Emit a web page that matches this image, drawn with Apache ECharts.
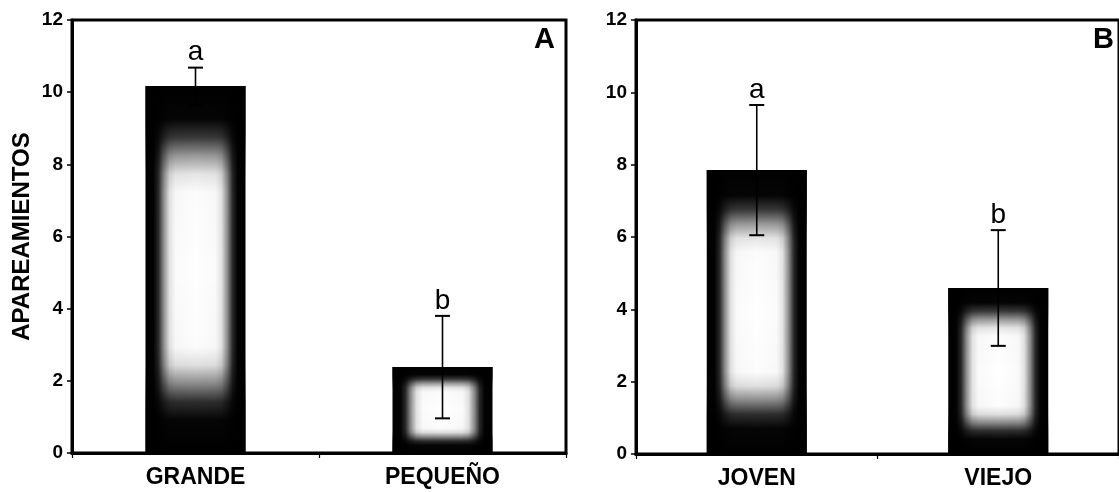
<!DOCTYPE html>
<html>
<head>
<meta charset="utf-8">
<script src="https://cdn.jsdelivr.net/npm/echarts@6/dist/echarts.min.js"></script>
<style>
  html, body { margin: 0; padding: 0; background: #ffffff; }
  #chart { width: 1119px; height: 492px; }
</style>
</head>
<body>
<div id="chart"></div>
<script>
// Panel A: mating counts by body size
const categoriesA = ['GRANDE', 'PEQUEÑO'];
const meansA = [10.17, 2.38];
const errorsA = [0.51, 1.42];
const lettersA = ['a', 'b'];

// Panel B: mating counts by age
const categoriesB = ['JOVEN', 'VIEJO'];
const meansB = [7.85, 4.59];
const errorsB = [1.80, 1.60];
const lettersB = ['a', 'b'];

const panelLabels = ['A', 'B'];
const yAxisTitle = 'APAREAMIENTOS';
const yMin = 0;
const yMax = 12;
const yStep = 2;

const FONT = '"Liberation Sans", Arial, Helvetica, sans-serif';
const BAR_W = 100;
const CAP_W = 15;

// Bar body: dark frame fading into a pale centre (horizontal profile)
const sideShade = new echarts.graphic.LinearGradient(0, 0, 1, 0, [
  { offset: 0.00, color: '#000000' },
  { offset: 0.08, color: '#030303' },
  { offset: 0.13, color: '#2a2a2a' },
  { offset: 0.18, color: '#8a8a8a' },
  { offset: 0.24, color: '#e2e2e2' },
  { offset: 0.30, color: '#fafafa' },
  { offset: 0.50, color: '#ffffff' },
  { offset: 0.70, color: '#fafafa' },
  { offset: 0.76, color: '#e2e2e2' },
  { offset: 0.82, color: '#8a8a8a' },
  { offset: 0.87, color: '#2a2a2a' },
  { offset: 0.92, color: '#030303' },
  { offset: 1.00, color: '#000000' }
]);
// Vertical darkening laid over the body, so top and bottom fade to black too
const endShade = new echarts.graphic.LinearGradient(0, 0, 0, 1, [
  { offset: 0.00, color: 'rgba(0,0,0,1)' },
  { offset: 0.09, color: 'rgba(0,0,0,0.98)' },
  { offset: 0.14, color: 'rgba(0,0,0,0.78)' },
  { offset: 0.19, color: 'rgba(0,0,0,0.40)' },
  { offset: 0.24, color: 'rgba(0,0,0,0.10)' },
  { offset: 0.29, color: 'rgba(0,0,0,0.01)' },
  { offset: 0.50, color: 'rgba(0,0,0,0)' },
  { offset: 0.71, color: 'rgba(0,0,0,0.01)' },
  { offset: 0.76, color: 'rgba(0,0,0,0.12)' },
  { offset: 0.81, color: 'rgba(0,0,0,0.45)' },
  { offset: 0.86, color: 'rgba(0,0,0,0.82)' },
  { offset: 0.91, color: 'rgba(0,0,0,0.98)' },
  { offset: 1.00, color: 'rgba(0,0,0,1)' }
]);

function makeRenderer(letters) {
  return function (params, api) {
    const x = api.value(0);
    const mean = api.value(1);
    const err = api.value(2);
    const top = api.coord([x, mean]);
    const base = api.coord([x, 0]);
    const hi = api.coord([x, mean + err]);
    const lo = api.coord([x, mean - err]);
    const cx = top[0];
    const rect = { x: cx - BAR_W / 2, y: top[1], width: BAR_W, height: base[1] - top[1] };
    return {
      type: 'group',
      children: [
        { type: 'rect', shape: rect, style: { fill: sideShade } },
        { type: 'rect', shape: rect, style: { fill: endShade } },
        { type: 'line', shape: { x1: cx, y1: hi[1], x2: cx, y2: lo[1] },
          style: { stroke: '#000', lineWidth: 1.6 } },
        { type: 'line', shape: { x1: cx - CAP_W / 2, y1: hi[1], x2: cx + CAP_W / 2, y2: hi[1] },
          style: { stroke: '#000', lineWidth: 2 } },
        { type: 'line', shape: { x1: cx - CAP_W / 2, y1: lo[1], x2: cx + CAP_W / 2, y2: lo[1] },
          style: { stroke: '#000', lineWidth: 2 } },
        { type: 'text', x: cx, y: hi[1] - 1,
          style: { text: letters[params.dataIndex], font: '28px ' + FONT, fill: '#000',
                   align: 'center', verticalAlign: 'bottom' } }
      ]
    };
  };
}

function seriesData(means, errors) {
  return means.map((m, i) => [i, m, errors[i]]);
}

const gridStyle = { show: true, borderColor: '#000', borderWidth: 3, backgroundColor: 'transparent' };

function xAxisFor(gridIndex, cats) {
  return {
    type: 'category', gridIndex: gridIndex, data: cats, boundaryGap: true,
    axisLine: { show: true, lineStyle: { color: '#000', width: 3 } },
    axisTick: { show: true, inside: false, length: 5, lineStyle: { color: '#000', width: 1.2 } },
    axisLabel: { color: '#000', fontFamily: FONT, fontWeight: 'bold', fontSize: 23, margin: 13 },
    splitLine: { show: false }
  };
}

function yAxisFor(gridIndex, name) {
  return {
    type: 'value', gridIndex: gridIndex, min: yMin, max: yMax, interval: yStep,
    name: name, nameLocation: 'middle', nameGap: 38,
    nameTextStyle: { color: '#000', fontFamily: FONT, fontWeight: 'bold', fontSize: 24 },
    axisLine: { show: true, lineStyle: { color: '#000', width: 3 } },
    axisTick: { show: true, inside: false, length: 5, lineStyle: { color: '#000', width: 1.5 } },
    axisLabel: { color: '#000', fontFamily: FONT, fontWeight: 'bold', fontSize: 19, margin: 9 },
    splitLine: { show: false }
  };
}

const chart = echarts.init(document.getElementById('chart'), null, { renderer: 'canvas' });
chart.setOption({
  backgroundColor: '#ffffff',
  animation: false,
  title: [
    { text: panelLabels[0], right: 564, top: 25, padding: 0,
      textStyle: { color: '#000', fontFamily: FONT, fontWeight: 'bold', fontSize: 29 } },
    { text: panelLabels[1], right: 5, top: 25, padding: 0,
      textStyle: { color: '#000', fontFamily: FONT, fontWeight: 'bold', fontSize: 29 } }
  ],
  grid: [
    Object.assign({ left: 72, top: 20, width: 494, height: 433 }, gridStyle),
    Object.assign({ left: 636, top: 20, width: 494, height: 434 }, gridStyle)
  ],
  xAxis: [xAxisFor(0, categoriesA), xAxisFor(1, categoriesB)],
  yAxis: [yAxisFor(0, yAxisTitle), yAxisFor(1, '')],
  series: [
    { type: 'custom', xAxisIndex: 0, yAxisIndex: 0, clip: false,
      data: seriesData(meansA, errorsA), encode: { x: 0, y: 1 },
      renderItem: makeRenderer(lettersA) },
    { type: 'custom', xAxisIndex: 1, yAxisIndex: 1, clip: false,
      data: seriesData(meansB, errorsB), encode: { x: 0, y: 1 },
      renderItem: makeRenderer(lettersB) }
  ]
});
</script>
</body>
</html>
